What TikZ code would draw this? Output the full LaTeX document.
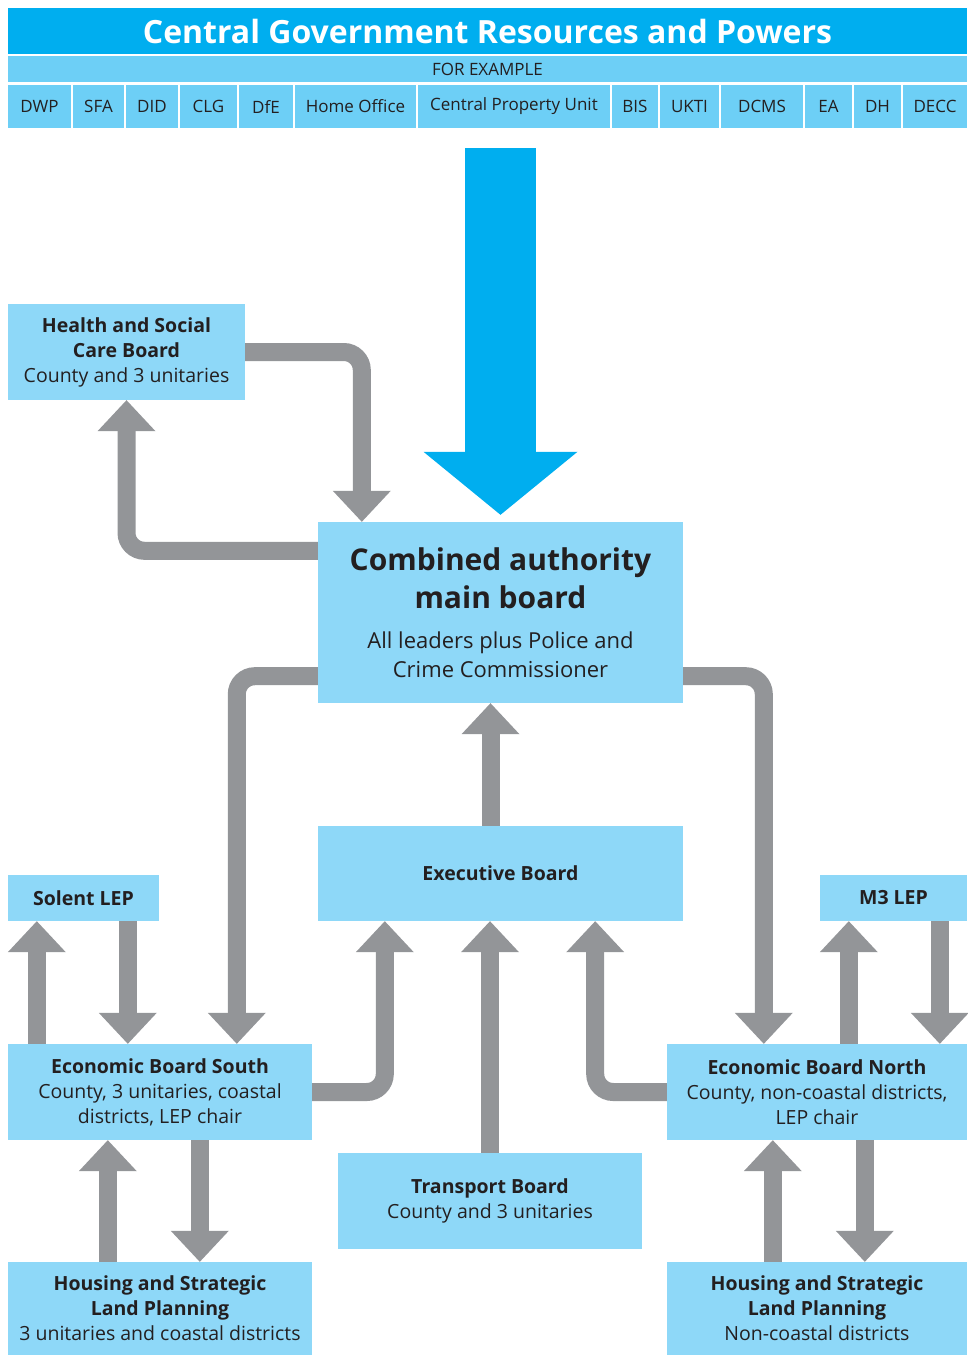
\documentclass[tikz,border=0pt]{standalone}
\usepackage{fontspec}
\setmainfont{Open Sans}
\usepackage{xcolor}
\usetikzlibrary{arrows.meta, positioning, calc}

\definecolor{cgblue}{RGB}{0,174,239}
\definecolor{rowblue}{RGB}{109,207,246}
\definecolor{boxblue}{RGB}{142,216,248}
\definecolor{flowgrey}{RGB}{147,149,152}
\definecolor{inkdark}{RGB}{35,31,32}

\newcommand{\bighead}{\fontsize{30}{38}\selectfont\bfseries}
\newcommand{\bigsub}{\fontsize{22}{29}\selectfont\mdseries}

\begin{document}
\begin{tikzpicture}[
    x=1pt, y=-1pt,
    board/.style={fill=boxblue, inner sep=0pt, align=center, text=inkdark, font=\fontsize{19.5}{25}\selectfont},
    dept/.style={fill=rowblue, inner sep=0pt, minimum height=43pt, text=inkdark, font=\fontsize{17}{20}\selectfont},
    flow/.style={-{Triangle[length=31pt, width=58pt, line width=0pt]}, line width=18pt, flowgrey, rounded corners=18pt},
    bigflow/.style={-{Triangle[length=63pt, width=154pt, line width=0pt]}, line width=71pt, cgblue}
]
    \useasboundingbox (0,0) rectangle (967,1355);

    % Central government header
    \node[fill=cgblue, minimum width=959pt, minimum height=46pt, inner sep=0pt, text=white,
          font=\fontsize{32}{36}\selectfont\bfseries] (cgtitle) at (487.5,31) {Central Government Resources and Powers};
    \node[fill=rowblue, minimum width=959pt, minimum height=26pt, inner sep=0pt, text=inkdark,
          font=\fontsize{17}{20}\selectfont] (forex) at (487.5,69) {FOR EXAMPLE};
    \foreach \cx/\w/\lbl [count=\i] in {39.5/63/DWP, 98.5/51/SFA, 152/52/DID, 208.5/57/CLG, 266/54/DfE,
        355.5/121/Home Office, 514/192/Central Property Unit, 635/46/BIS, 689.5/59/UKTI,
        762/82/DCMS, 828.5/47/EA, 877.5/47/DH, 935/64/DECC}
        \node[dept, minimum width=\w pt] (dep\i) at (\cx,106.5) {\lbl};

    % Boards
    \node[board, minimum width=237pt, minimum height=96pt] (health) at (126.5,352)
        {\textbf{Health and Social}\\\textbf{Care Board}\\County and 3 unitaries};
    \node[board, minimum width=365pt, minimum height=181pt] (combined) at (500.5,612.5)
        {\bighead Combined authority\\[7pt]\bighead main board\\[15pt]\bigsub All leaders plus Police and\\[4pt]\bigsub Crime Commissioner};
    \node[board, minimum width=365pt, minimum height=95pt] (exec) at (500.5,873.5) {\textbf{Executive Board}};
    \node[board, minimum width=151pt, minimum height=46pt] (solent) at (83.5,898) {\textbf{Solent LEP}};
    \node[board, minimum width=147pt, minimum height=46pt] (m3) at (893.5,898) {\textbf{M3 LEP}};
    \node[board, minimum width=304pt, minimum height=96pt] (south) at (160,1092)
        {\textbf{Economic Board South}\\County, 3 unitaries, coastal\\districts, LEP chair};
    \node[board, minimum width=300pt, minimum height=96pt] (north) at (817,1092)
        {\textbf{Economic Board North}\\County, non-coastal districts,\\LEP chair};
    \node[board, minimum width=304pt, minimum height=96pt] (transport) at (490,1201)
        {\textbf{Transport Board}\\County and 3 unitaries};
    \node[board, minimum width=304pt, minimum height=93pt] (houseS) at (160,1308.5)
        {\textbf{Housing and Strategic}\\\textbf{Land Planning}\\3 unitaries and coastal districts};
    \node[board, minimum width=300pt, minimum height=93pt] (houseN) at (817,1308.5)
        {\textbf{Housing and Strategic}\\\textbf{Land Planning}\\Non-coastal districts};

    % Resources flowing down
    \coordinate (govsrc) at (500.5,148);
    \draw[bigflow] (govsrc) -- ([yshift=7pt]combined.north);

    % Arrows
    \draw[flow] (health.east) -| ([xshift=44pt]combined.north west);
    \draw[flow] ([yshift=-29pt]combined.north west) -| (health.south);
    \draw[flow] ([yshift=27pt]combined.south west) -| ([xshift=229pt]south.north west);
    \draw[flow] ([yshift=27pt]combined.south east) -| ([xshift=97pt]north.north west);
    \draw[flow] ([xshift=-10pt]exec.north) -- ([xshift=-10pt]combined.south);
    \draw[flow] (transport.north) -- (transport.north |- exec.south);
    \draw[flow] (south.east) -| ([xshift=67pt]exec.south west);
    \draw[flow] (north.west) -| ([xshift=-88pt]exec.south east);
    \draw[flow] ([xshift=29pt]south.north west) -- ([xshift=29pt]solent.south west);
    \draw[flow] ([xshift=120pt]solent.south west) -- ([xshift=120pt]south.north west);
    \draw[flow] ([xshift=182pt]north.north west) -- ([xshift=29pt]m3.south west);
    \draw[flow] ([xshift=120pt]m3.south west) -- ([xshift=273pt]north.north west);
    \draw[flow] ([xshift=192pt]south.south west) -- ([xshift=192pt]houseS.north west);
    \draw[flow] ([xshift=100pt]houseS.north west) -- ([xshift=100pt]south.south west);
    \draw[flow] ([xshift=198pt]north.south west) -- ([xshift=198pt]houseN.north west);
    \draw[flow] ([xshift=106pt]houseN.north west) -- ([xshift=106pt]north.south west);
\end{tikzpicture}
\end{document}
